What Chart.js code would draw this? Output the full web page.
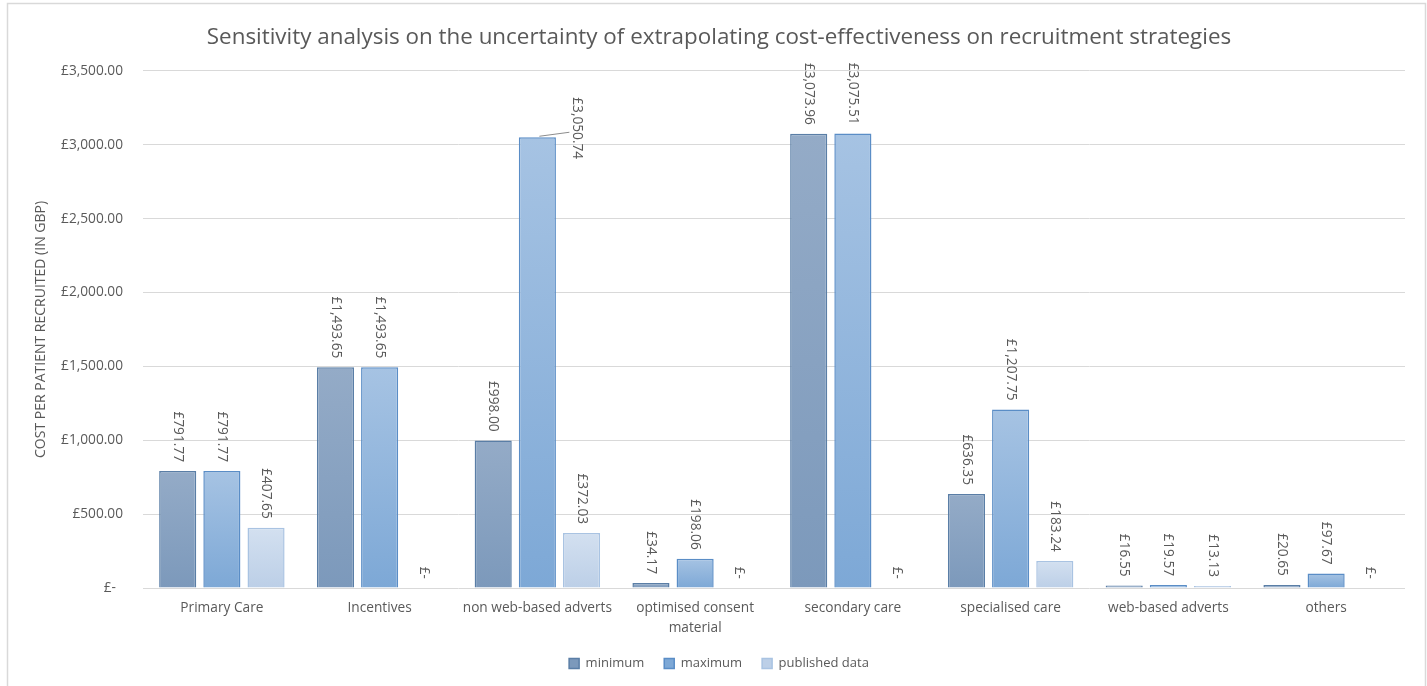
<!DOCTYPE html>
<html>
<head>
<meta charset="utf-8">
<script src="https://cdn.jsdelivr.net/npm/chart.js@4/dist/chart.umd.min.js"></script>
<style>
  html, body { margin: 0; padding: 0; background: #ffffff; }
  #wrap { position: relative; width: 1427px; height: 686px; }
</style>
</head>
<body>
<div id="wrap"><canvas id="chart" width="1427" height="686"></canvas></div>
<script>
// Recruitment strategies compared
const categories = [
  'Primary Care',
  'Incentives',
  'non web-based adverts',
  ['optimised consent', 'material'],
  'secondary care',
  'specialised care',
  'web-based adverts',
  'others'
];

// Cost per patient recruited, GBP
const minimumCost   = [791.77, 1493.65, 998.00, 34.17, 3073.96, 636.35, 16.55, 20.65];
const maximumCost   = [791.77, 1493.65, 3050.74, 198.06, 3075.51, 1207.75, 19.57, 97.67];
const publishedCost = [407.65, 0, 372.03, 0, 0, 183.24, 13.13, 0];

const seriesNames = ['minimum', 'maximum', 'published data'];

// Value axis
const yTickValues = [0, 500, 1000, 1500, 2000, 2500, 3000, 3500];
const yTickLabels = ['£-  ', '£500.00', '£1,000.00', '£1,500.00', '£2,000.00', '£2,500.00', '£3,000.00', '£3,500.00'];

const FONT = "'Open Sans', 'DejaVu Sans', sans-serif";
const TEXT = '#595959';

function money(v) {
  if (v === 0) return '£-';
  return '£' + v.toLocaleString('en-GB', { minimumFractionDigits: 2, maximumFractionDigits: 2 });
}

// Per-bar vertical gradient (lighter at the top)
function barGradient(topColor, bottomColor) {
  return function (ctx) {
    const chart = ctx.chart;
    const y = chart.scales && chart.scales.y;
    if (!y || ctx.parsed == null || !chart.chartArea) return bottomColor;
    const top = y.getPixelForValue(ctx.parsed.y);
    const bottom = y.getPixelForValue(0);
    if (!(bottom - top > 1)) return bottomColor;
    const g = chart.ctx.createLinearGradient(0, top, 0, bottom);
    g.addColorStop(0, topColor);
    g.addColorStop(1, bottomColor);
    return g;
  };
}

// Light frame around the whole figure
const framePlugin = {
  id: 'frame',
  beforeDraw(chart) {
    const c = chart.ctx;
    c.save();
    c.strokeStyle = '#d9d9d9';
    c.lineWidth = 1.5;
    c.strokeRect(7.5, 3.5, 1418, 700);
    c.restore();
  }
};

// Rotated value labels above each bar
const valueLabelPlugin = {
  id: 'valueLabels',
  afterDatasetsDraw(chart, args, opts) {
    const c = chart.ctx;
    c.save();
    c.font = opts.size + 'px ' + FONT;
    c.fillStyle = opts.color;
    c.textBaseline = 'middle';
    chart.data.datasets.forEach((ds, di) => {
      const meta = chart.getDatasetMeta(di);
      if (meta.hidden) return;
      meta.data.forEach((bar, i) => {
        const txt = money(ds.data[i]);
        const callout = (opts.callouts || []).find(o => o.datasetIndex === di && o.index === i);
        if (callout) {
          const lx = bar.x + callout.dx;
          const ly = bar.y + callout.dy;
          c.save();
          c.strokeStyle = '#8c8c8c';
          c.lineWidth = 1;
          c.beginPath();
          c.moveTo(bar.x + 2, bar.y - 1);
          c.lineTo(lx - 8, bar.y - 5);
          c.stroke();
          c.restore();
          c.save();
          c.translate(lx, ly);
          c.rotate(Math.PI / 2);
          c.textAlign = 'left';
          c.fillText(txt, 0, 0);
          c.restore();
          return;
        }
        c.save();
        c.translate(bar.x, bar.y - opts.gap);
        c.rotate(Math.PI / 2);
        c.textAlign = 'right';
        c.fillText(txt, 0, 0);
        c.restore();
      });
    });
    c.restore();
  }
};

new Chart(document.getElementById('chart'), {
  type: 'bar',
  data: {
    labels: categories,
    datasets: [
      {
        label: seriesNames[0],
        data: minimumCost,
        backgroundColor: barGradient('#94abc7', '#7c99bb'),
        borderColor: '#5a7ea6',
        borderWidth: 1.5
      },
      {
        label: seriesNames[1],
        data: maximumCost,
        backgroundColor: barGradient('#a6c3e3', '#7da8d6'),
        borderColor: '#5a8dc6',
        borderWidth: 1.5
      },
      {
        label: seriesNames[2],
        data: publishedCost,
        backgroundColor: barGradient('#d3e0f0', '#bccfe7'),
        borderColor: '#a9c3e2',
        borderWidth: 1.5
      }
    ]
  },
  options: {
    responsive: false,
    animation: false,
    devicePixelRatio: 1,
    layout: { padding: { left: 33, right: 22, top: 0, bottom: 6 } },
    datasets: {
      bar: { categoryPercentage: 0.84, barPercentage: 0.84 }
    },
    scales: {
      x: {
        grid: { display: false, drawTicks: false },
        border: { display: false },
        ticks: {
          color: TEXT,
          font: { family: FONT, size: 13.7, lineHeight: 1.4 },
          padding: 11,
          maxRotation: 0,
          autoSkip: false
        },
        afterFit(scale) { scale.height = 49; }
      },
      y: {
        min: 0,
        max: 3500,
        afterBuildTicks(scale) { scale.ticks = yTickValues.map(v => ({ value: v })); },
        grid: { color: '#d9d9d9', lineWidth: 1, drawTicks: false },
        border: { display: false },
        ticks: {
          color: TEXT,
          font: { family: FONT, size: 13.7 },
          padding: 20,
          callback: (value, index) => yTickLabels[index]
        },
        title: {
          display: true,
          text: 'COST PER PATIENT RECRUITED (IN GBP)',
          color: TEXT,
          font: { family: FONT, size: 14 },
          padding: { top: 0, bottom: 0 }
        },
        afterFit(scale) { scale.width = 110; }
      }
    },
    plugins: {
      title: {
        display: true,
        text: 'Sensitivity analysis on the uncertainty of extrapolating cost-effectiveness on recruitment strategies',
        color: TEXT,
        font: { family: FONT, size: 22.4, weight: 'normal' },
        padding: { top: 24, bottom: 20 }
      },
      legend: {
        position: 'bottom',
        labels: {
          color: TEXT,
          font: { family: FONT, size: 13 },
          boxWidth: 10,
          boxHeight: 10,
          padding: 20
        }
      },
      tooltip: { enabled: false },
      valueLabels: {
        color: TEXT,
        size: 13.7,
        gap: 9,
        callouts: [{ datasetIndex: 1, index: 2, dx: 40, dy: -40 }]
      }
    }
  },
  plugins: [framePlugin, valueLabelPlugin]
});
</script>
</body>
</html>
